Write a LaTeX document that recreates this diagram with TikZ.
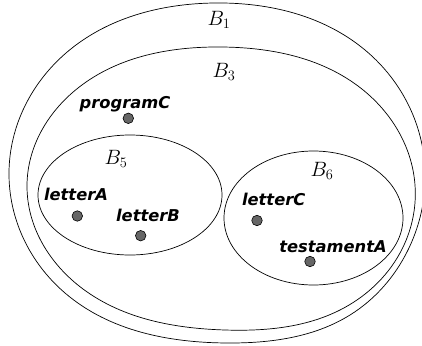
\documentclass[tikz,border=0pt]{standalone}
\usepackage{fontspec}
\newfontfamily\itemfont{DejaVu Sans Bold Oblique}
\usetikzlibrary{positioning, hobby}

\begin{document}
\begin{tikzpicture}[x=1pt,y=-1pt,line width=.7pt,
  blob/.style={circle,draw,fill=black!60,inner sep=0pt,minimum size=10.5pt,line width=.6pt},
  item/.style={font=\itemfont\fontsize{16.3}{19}\selectfont,anchor=base,inner sep=0pt},
  bset/.style={font=\huge,anchor=base,inner sep=0pt}]
\useasboundingbox (0,0) rectangle (422,345);
% B1 and B3
\draw[use Hobby shortcut, closed=true] (214,3) .. (365,50) .. (423,150) .. (408,250) .. (350,315)
  .. (228,343) .. (65,293) .. (9,172) .. (66,53);
\draw[use Hobby shortcut, closed=true] (222,47) .. (358,86) .. (415,185) .. (400,253) .. (340,310)
  .. (225,330) .. (83,289) .. (27,185) .. (78,88);
% B5, B6
\draw (130,195) ellipse [x radius=92, y radius=60];
\draw (313.5,218) ellipse [x radius=89.5, y radius=67];

\node[bset] (b1) at (219,25.7) {$B_1$};
\node[bset] (b3) at (224,77.7) {$B_3$};
\node[bset] (b5) at (116,164.3) {$B_5$};
\node[bset] (b6) at (322,176) {$B_6$};

\node[item] (tpc) at (125,108) {programC};
\node[blob] (pc) at (128.3,118.3) {};
\node[item] (tla) at (76,200) {letterA};
\node[blob] (la) at (77.3,216) {};
\node[item] (tlb) at (148,221.7) {letterB};
\node[blob] (lb) at (140.7,235.7) {};
\node[item] (tlc) at (273.7,205) {letterC};
\node[blob] (lc) at (257,220.5) {};
\node[item] (tta) at (333,252) {testamentA};
\node[blob] (ta) at (310,261.5) {};
\end{tikzpicture}
\end{document}
